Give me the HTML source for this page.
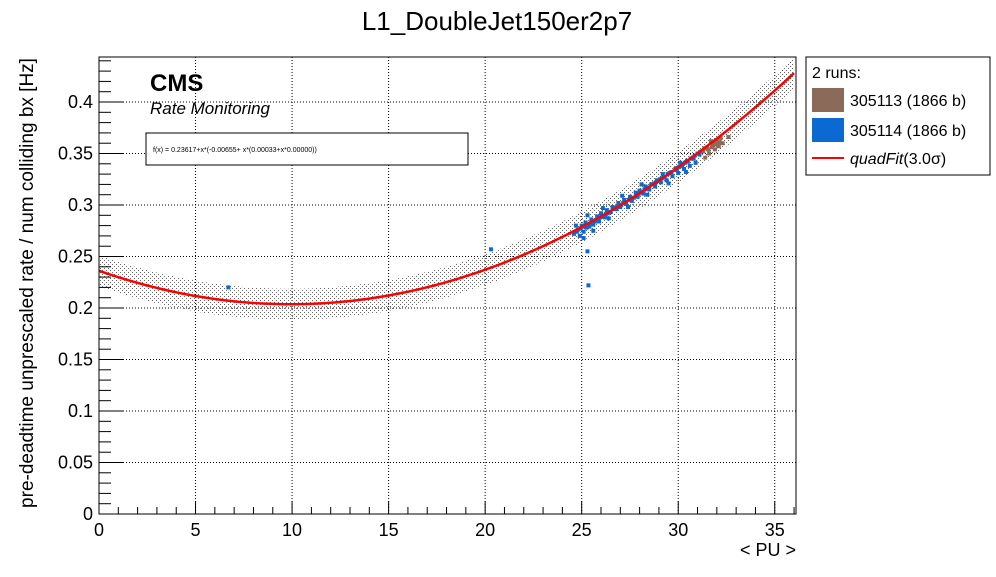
<!DOCTYPE html>
<html><head><meta charset="utf-8"><style>
body{margin:0;background:#fff;font-family:"Liberation Sans",sans-serif}
</style></head><body>
<svg id="c" width="996" height="572" xmlns="http://www.w3.org/2000/svg" font-family="Liberation Sans, sans-serif">
<defs>
<pattern id="dots" width="4" height="4" patternUnits="userSpaceOnUse"><rect x="0" y="0" width="1" height="1" fill="#666"/><rect x="2" y="2" width="1" height="1" fill="#666"/></pattern>
<clipPath id="pclip"><rect x="99" y="57" width="697" height="457"/></clipPath>
</defs>
<text x="497" y="30" font-size="26" text-anchor="middle">L1_DoubleJet150er2p7</text>
<g id="grid"></g>
<g id="band" clip-path="url(#pclip)"></g>
<g id="pts" clip-path="url(#pclip)"></g>
<g id="fit" clip-path="url(#pclip)"></g>
<rect x="99" y="57" width="697" height="457" fill="none" stroke="#000" stroke-width="1"/>
<g id="axes"></g>
<text x="150" y="91" font-size="24" font-weight="bold">CMS</text>
<text x="150" y="114" font-size="17" font-style="italic">Rate Monitoring</text>
<rect x="146" y="133" width="322" height="32" fill="#fff" stroke="#000"/>
<text x="153" y="152" font-size="7">f(x) = 0.23617+x*(-0.00655+ x*(0.00033+x*0.00000))</text>
<text x="33" y="283" font-size="19" text-anchor="middle" transform="rotate(-90 33 283)">pre-deadtime unprescaled rate / num colliding bx [Hz]</text>
<text x="796" y="556" font-size="18" text-anchor="end">&lt; PU &gt;</text>
<g>
<rect x="806" y="57" width="184" height="118" fill="#fff" stroke="#000"/>
<text x="812" y="78" font-size="16">2 runs:</text>
<rect x="812" y="88" width="32" height="24" fill="#8c6a5a"/>
<text x="850" y="106" font-size="16">305113 (1866 b)</text>
<rect x="812" y="118" width="32" height="24" fill="#0b6ad2"/>
<text x="850" y="136" font-size="16">305114 (1866 b)</text>
<line x1="812" y1="158" x2="844" y2="158" stroke="#f00" stroke-width="2"/>
<text x="850" y="164" font-size="16"><tspan font-style="italic">quadFit</tspan>(3.0σ)</text>
</g>
</svg>
<script>
const fitCoef=[0.23617,-0.00655,0.00033];
const bandHalf=0.015;
const blueX=[24.6,24.8,24.9,25.0,25.1,25.2,25.4,25.5,25.6,25.8,25.9,26.0,26.2,26.3,26.5,26.6,26.8,26.9,27.0,27.2,27.3,27.5,27.6,27.8,27.9,28.0,28.2,28.3,28.5,28.6,28.8,28.9,29.1,29.3,29.4,29.6,29.7,29.9,30.0,30.2,30.3,30.5,30.6,30.8,30.9,31.1,25.1,25.6,26.4,27.4,28.4,29.5,30.4,24.7,25.3,26.1,27.1,28.1,29.2,30.1,
24.75,24.95,25.15,25.45,25.7,25.85,26.05,26.25,26.45,26.7,26.85,27.05,27.25,27.45,27.7,27.85,28.05,28.25,28.45,28.7,28.85,29.05,29.25,29.45,29.65,29.85,30.05,30.25,30.45,30.65,30.85,31.0,31.2,25.25,25.55,25.95,26.35,26.75,27.15,27.55,27.95,28.35,28.75,29.15,29.55,29.95,30.35,30.75,
6.7,20.3,25.3,25.35];
const blueY=[0.272,0.276,0.270,0.280,0.274,0.283,0.279,0.286,0.281,0.289,0.284,0.292,0.288,0.295,0.293,0.298,0.296,0.302,0.298,0.305,0.301,0.308,0.304,0.312,0.308,0.314,0.311,0.318,0.315,0.320,0.318,0.324,0.322,0.327,0.324,0.331,0.328,0.334,0.331,0.338,0.335,0.342,0.338,0.345,0.341,0.349,0.268,0.275,0.287,0.298,0.310,0.321,0.332,0.280,0.290,0.297,0.309,0.320,0.330,0.341,
0.274,0.277,0.279,0.282,0.284,0.287,0.289,0.291,0.293,0.296,0.298,0.300,0.303,0.305,0.307,0.310,0.312,0.315,0.317,0.320,0.322,0.325,0.327,0.330,0.332,0.335,0.337,0.340,0.343,0.345,0.348,0.350,0.352,0.278,0.283,0.288,0.292,0.297,0.302,0.306,0.311,0.316,0.321,0.326,0.331,0.336,0.341,0.346,
0.220,0.257,0.255,0.222];
const brownX=[31.3,31.5,31.6,31.8,31.9,32.0,32.1,32.2,31.4,32.3,32.6,31.7,31.55,31.75,31.95,32.15,31.35,32.05];
const brownY=[0.352,0.356,0.350,0.359,0.354,0.362,0.357,0.365,0.346,0.360,0.366,0.362,0.354,0.356,0.359,0.361,0.355,0.358];
const xTicks=[0,5,10,15,20,25,30,35];
const yTicks=[0,0.05,0.1,0.15,0.2,0.25,0.3,0.35,0.4];
const yTickLabels=["0","0.05","0.1","0.15","0.2","0.25","0.3","0.35","0.4"];
const X0=99,X1=796,Y0=514,Y1=57,XMAX=36.1,YMAX=0.4437;
const sx=v=>X0+v/XMAX*(X1-X0), sy=v=>Y0-v/YMAX*(Y0-Y1);
const NS="http://www.w3.org/2000/svg";
function mk(t,a,p){const e=document.createElementNS(NS,t);for(const k in a)e.setAttribute(k,a[k]);p.appendChild(e);return e;}
const f=x=>fitCoef[0]+x*(fitCoef[1]+x*fitCoef[2]);
const G=document.getElementById('grid'),A=document.getElementById('axes');
xTicks.forEach(v=>{if(v>0){const l=mk('line',{x1:sx(v),x2:sx(v),y1:Y1,y2:Y0,stroke:'#000','stroke-dasharray':'1 2'},G);}
 const t=mk('text',{x:sx(v),y:Y0+22,'font-size':18,'text-anchor':'middle'},A);t.textContent=v;});
for(let v=0;v<=36;v++){mk('line',{x1:sx(v),x2:sx(v),y1:Y0,y2:Y0-(v%5==0?13:7),stroke:'#000'},A);}
yTicks.forEach((v,i)=>{if(v>0){const l=mk('line',{x1:X0,x2:X1,y1:sy(v),y2:sy(v),stroke:'#000','stroke-dasharray':'1 2'},G);}
 const t=mk('text',{x:X0-6,y:sy(v)+6,'font-size':18,'text-anchor':'end'},A);t.textContent=yTickLabels[i];});
for(let k=0;k<=44;k++){const v=k*0.01;mk('line',{x1:X0,x2:X0+(k%5==0?24:12),y1:sy(v),y2:sy(v),stroke:'#000'},A);}
let up=[],dn=[],ln=[];
for(let x=0;x<=XMAX;x+=0.2){up.push(sx(x)+','+sy(f(x)+bandHalf));dn.unshift(sx(x)+','+sy(f(x)-bandHalf));ln.push(sx(x)+','+sy(f(x)));}
const bp=mk('polygon',{points:up.concat(dn).join(' '),fill:'url(#dots)'},document.getElementById('band'));

const P=document.getElementById('pts');
blueX.forEach((x,i)=>{const r=mk('rect',{x:sx(x)-2,y:sy(blueY[i])-2,width:4,height:4,fill:'#0b6ad2'},P);});
brownX.forEach((x,i)=>{const r=mk('rect',{x:sx(x)-2,y:sy(brownY[i])-2,width:4,height:4,fill:'#8c6a5a'},P);});
const fl=mk('polyline',{points:ln.join(' '),fill:'none',stroke:'#f00','stroke-width':2.5},document.getElementById('fit'));

</script>
</body></html>
